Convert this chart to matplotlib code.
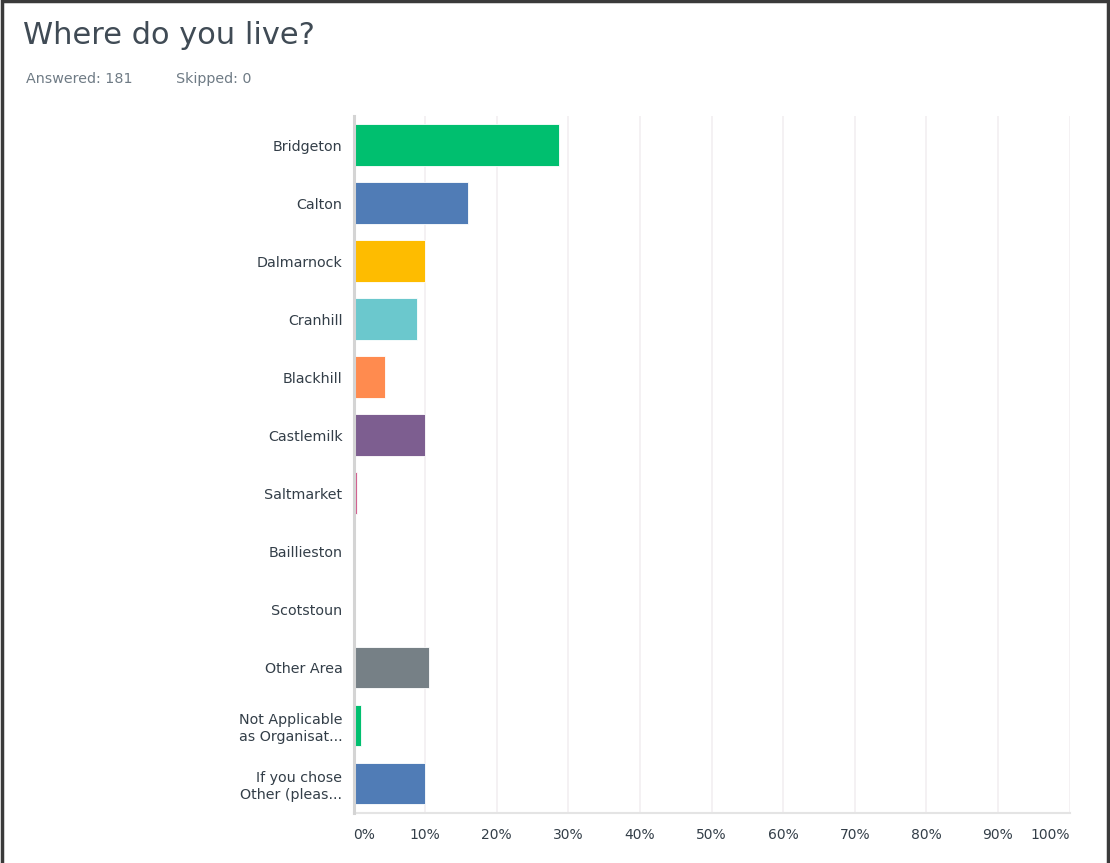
import matplotlib.pyplot as plt
import matplotlib.patches as patches
from matplotlib.ticker import FixedLocator

plt.rcParams['font.family'] = ['DejaVu Sans']

areas = ['Bridgeton', 'Calton', 'Dalmarnock', 'Cranhill', 'Blackhill',
         'Castlemilk', 'Saltmarket', 'Baillieston', 'Scotstoun', 'Other Area',
         'Not Applicable\nas Organisat...', 'If you chose\nOther (pleas...']
porcentajes = [28.73, 16.02, 9.94, 8.84, 4.42, 9.94, 0.55, 0.0, 0.0, 10.50, 1.10, 9.94]
colores = ['#00BF6F', '#507CB6', '#FEBC00', '#6BC8CD', '#FF8B4F', '#7D5E90',
           '#D25F90', '#DADADA', '#DADADA', '#768086', '#00BF6F', '#507CB6']
ticks_x = list(range(0, 101, 10))
etiquetas_x = [f'{t}%' for t in ticks_x]

fig = plt.figure(figsize=(11.1, 8.63), dpi=100)
W, H = 1110, 863

# marco oscuro alrededor de la figura
fig.add_artist(patches.Rectangle((1.5 / W, -0.01), (W - 4) / W, 1.01 - 1.5 / H,
                                 transform=fig.transFigure, fill=False,
                                 edgecolor='#3a3a3a', linewidth=2.5))

ax = fig.add_axes([353.5 / W, 1 - 812.5 / H, 716 / W, (812.5 - 116) / H])

y = list(range(len(areas)))
for i, (v, c) in enumerate(zip(porcentajes, colores)):
    if v > 0:
        ax.barh(i, v, height=0.72, color=c, edgecolor='white',
                linewidth=0.6, zorder=3)

ax.set_ylim(len(areas) - 0.5, -0.5)
ax.set_xlim(0, 100)
ax.set_yticks(y)
ax.set_yticklabels(areas, fontsize=10.3, color='#333e48', linespacing=1.25,
                   multialignment='right')
ax.xaxis.set_major_locator(FixedLocator(ticks_x))
ax.set_xticklabels(etiquetas_x, fontsize=10, color='#333e48')
xlabels = ax.get_xticklabels()
xlabels[0].set_ha('left')
xlabels[-1].set_ha('right')
ax.tick_params(axis='both', length=0)
ax.tick_params(axis='y', pad=8)
ax.tick_params(axis='x', pad=11)

ax.grid(axis='x', color='#f2eff1', linewidth=1.2, zorder=0)
for s in ['top', 'right']:
    ax.spines[s].set_visible(False)
ax.spines['left'].set_color('#d4d4d4')
ax.spines['left'].set_linewidth(2.2)
ax.spines['left'].set_zorder(4)
ax.spines['bottom'].set_color('#e4e4e4')
ax.spines['bottom'].set_linewidth(1.5)

fig.text(23 / W, 1 - 36 / H, 'Where do you live?', fontsize=22,
         color='#404b55', va='center', ha='left')
fig.text(26 / W, 1 - 79 / H, 'Answered: 181', fontsize=10.3,
         color='#6f7b85', va='center', ha='left')
fig.text(176 / W, 1 - 79 / H, 'Skipped: 0', fontsize=10.3,
         color='#6f7b85', va='center', ha='left')

fig.savefig('out.png', dpi=100, facecolor='white')
